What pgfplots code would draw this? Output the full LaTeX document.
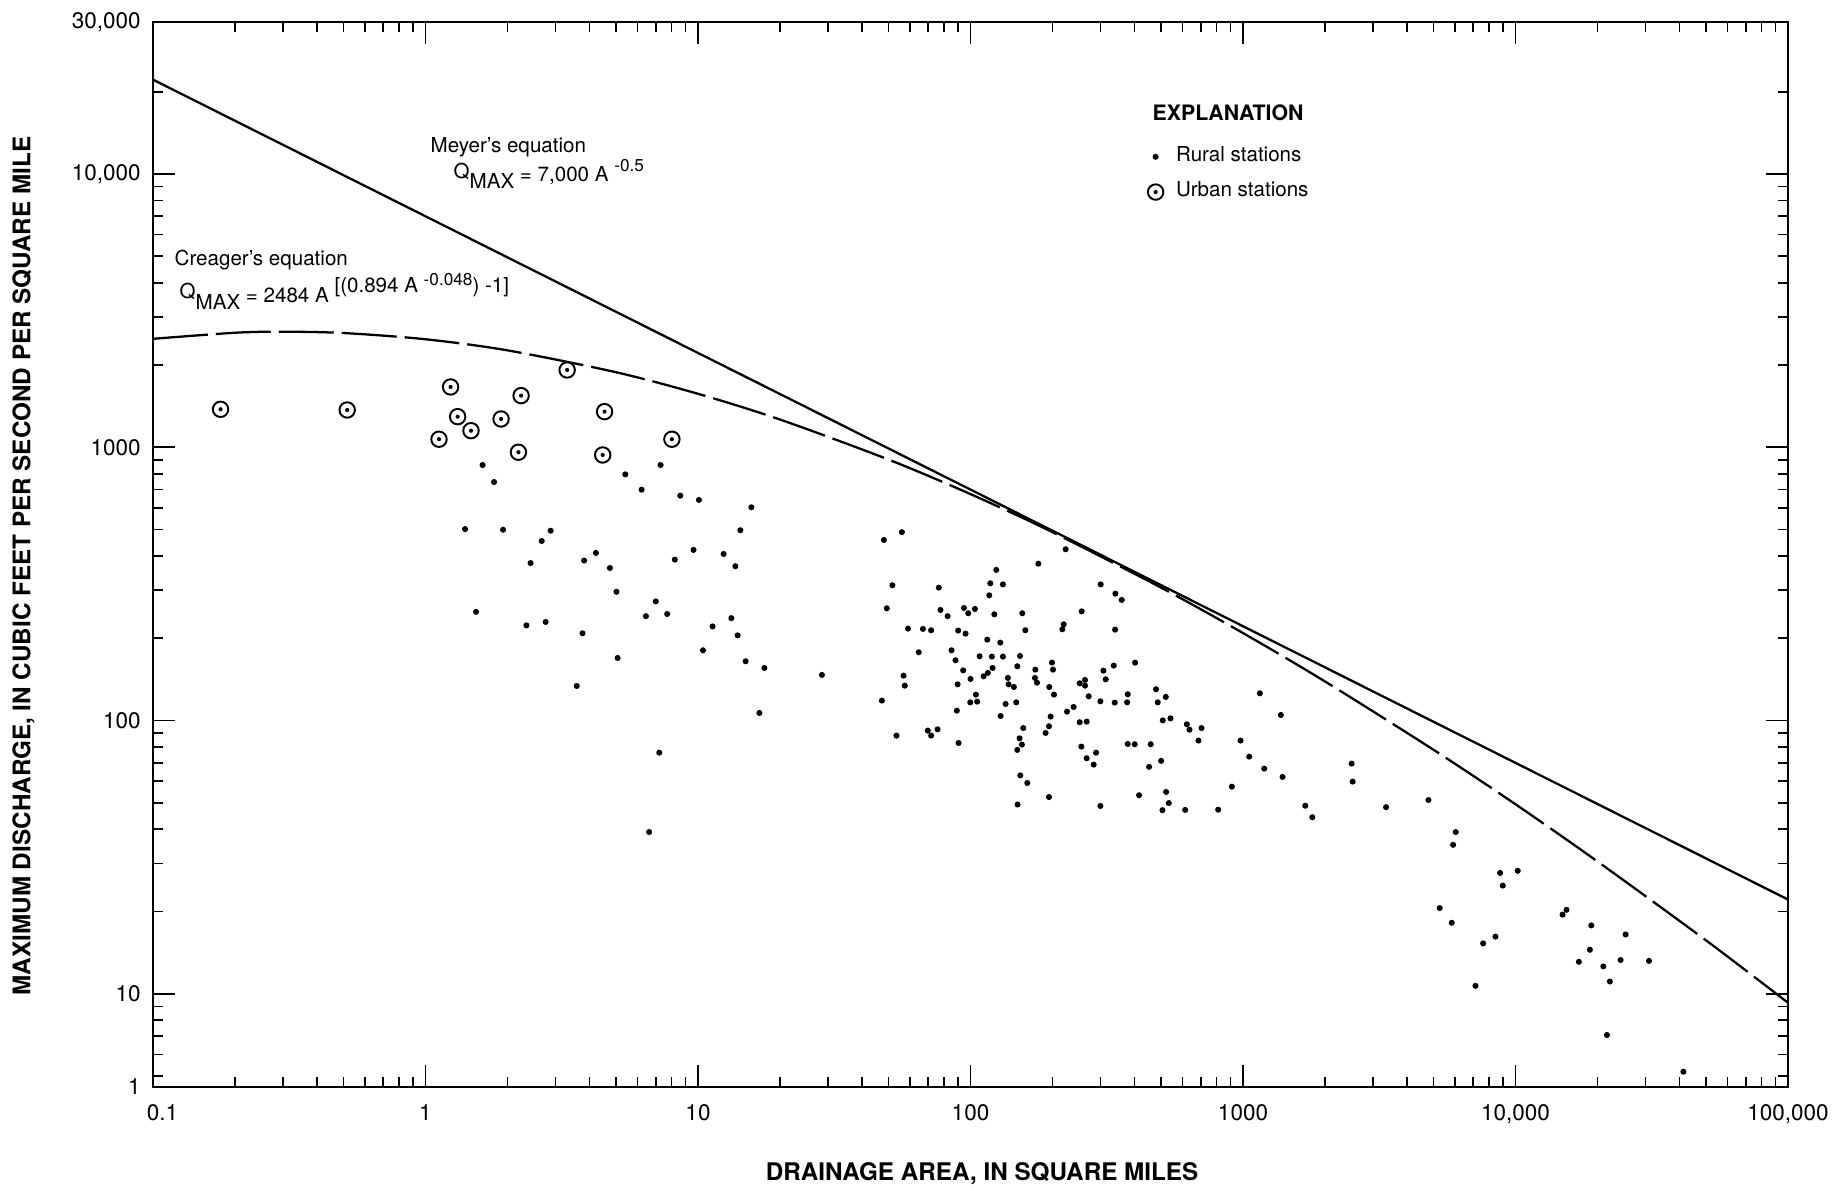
\documentclass[border=0pt]{standalone}
\usepackage{fontspec}
\setmainfont{TeX Gyre Heros}
\usepackage{pgfplots}
\pgfplotsset{compat=1.18}

% open circle with a dot in its centre (urban stations)
\pgfdeclareplotmark{circdot}{%
  \pgfpathcircle{\pgfpointorigin}{\pgfplotmarksize}\pgfusepathqstroke
  \pgfpathcircle{\pgfpointorigin}{0.27\pgfplotmarksize}\pgfusepathqfill}

\newcommand{\annfont}{\fontsize{5.85}{7}\selectfont}
\newcommand{\supfont}{\fontsize{4.9}{6}\selectfont}
\newcommand{\qmax}{\raisebox{0.18em}{Q}\raisebox{-0.32em}{MAX}}

\begin{document}
\begin{tikzpicture}
\begin{axis}[
  at={(0,0)}, anchor=south west,
  scale only axis, width=163.5mm, height=106.5mm,
  xmode=log, ymode=log,
  xmin=0.1, xmax=100000, ymin=4.563, ymax=35980,
  axis line style={line width=0.7pt},
  every tick/.style={black, line width=0.5pt},
  major tick length=2.2mm, minor tick length=1mm,
  tick align=inside,
  xtick={0.1,1,10,100,1000,10000,100000},
  xticklabels={\kern1.9mm 0.1,1,10,100,1000,{10,000},{100,000}},
  minor xtick={0.2,0.3,0.4,0.5,0.6,0.7,0.8,0.9,2,3,4,5,6,7,8,9,
    20,30,40,50,60,70,80,90,200,300,400,500,600,700,800,900,
    2000,3000,4000,5000,6000,7000,8000,9000,
    20000,30000,40000,50000,60000,70000,80000,90000},
  ytick={10,100,1000,10000},
  yticklabels={10,100,1000,{10,000}},
  minor ytick={5,6,7,8,9,20,30,40,50,60,70,80,90,200,300,400,500,600,700,800,900,
    2000,3000,4000,5000,6000,7000,8000,9000,20000},
  extra y ticks={4.563,35980},
  extra y tick labels={1,{30,000}},
  extra y tick style={major tick length=0pt},
  tick label style={font=\fontsize{6.4}{7.5}\selectfont},
  xticklabel style={yshift=-0.55mm},
  /pgf/number format/assume math mode=true,
  legend style={draw=none, fill=none, inner sep=0pt,
    at={(axis description cs:0.6073,0.8864)}, anchor=north west,
    font=\annfont, row sep=0.9mm, column sep=0.85mm,
    nodes={inner sep=0.3mm}},
  legend cell align=left,
  legend image code/.code={%
    \path[draw=none, fill=none] (-0.9mm,-0.9mm) rectangle (0.9mm,0.9mm);
    \draw[#1,only marks] plot coordinates {(0mm,0mm)};},
]

% rural stations
\addplot[only marks, mark=*, mark size=0.65pt, black] table {
x y
1.62 861
1.785 746
1.397 502
1.926 499
2.88 495
2.67 454
2.43 377
1.533 250
2.346 223
2.76 229.5
3.77 208.6
3.59 133.8
3.82 385
4.22 410.6
4.75 361.7
5.02 296
5.07 169.4
5.41 796
6.21 699.6
7.29 861
8.61 665
10.08 641.6
15.7 603
14.3 497
12.42 407
13.71 367
9.63 421
8.22 388
7.0 273
6.44 241
7.71 245.5
11.31 221
13.25 237
13.98 205
10.43 180.8
14.96 164.8
17.52 155.8
16.8 106.6
7.21 76.3
6.62 39.1
28.5 146.9
48.1 458
56.0 489
51.7 312.6
49.3 257.5
59.0 217
66.9 216.4
71.7 214
76.5 306.5
77.6 254
82.4 241
94.6 258.2
98.1 247
103.8 256
90.1 213.4
95.9 208
124.3 355.8
118.2 317.9
117.2 287.3
131.5 315
122.3 244.8
177.4 375
223.5 423.4
154.9 247
158.9 214
115.2 197.8
128.6 192.9
85.2 180.8
88.1 166.2
64.6 177.8
56.8 146
57.4 134.2
47.3 118.3
53.5 88.1
69.7 91.9
71.7 88.1
75.7 92.9
90.4 82.8
89.1 108.7
89.7 135.7
94.0 152.7
100 142
104.7 124.4
99.8 116.6
105.8 117.3
108.0 171.9
111.7 145.2
115.8 149.4
120.5 155.8
119.8 171.4
131.5 171.4
151.9 172.4
148.5 158
137.2 143.2
138 135.7
144.3 132.7
147.2 116.6
134.5 115.0
129 103.9
156.2 93.9
151.4 86.1
154.4 81.7
148.5 78.1
152.3 63.0
161.6 59.1
148.9 49.3
172.9 153.6
172.4 143.2
175.4 137.6
199.1 162.9
200.8 153.6
194.6 132.7
202.5 124.4
196.9 103.4
194.1 95.3
188.7 90.1
194.1 52.5
217.3 215.8
219.8 225
255.9 251
251.6 136.9
263.2 140.8
263.2 134.2
271.5 122.7
239.1 112.1
226.1 107.8
251.6 98.6
266.9 99.1
255.2 80.3
266.9 72.8
288.9 76.3
283.2 69.0
299.7 117.6
307.4 152.3
313.5 141.6
335.5 158.9
338.3 116.3
339.3 215.1
340.2 291.4
300.5 315
299.7 48.7
358.9 276.3
401.8 162.9
377.6 124.8
375.5 116.6
479.8 130.2
520.8 122.0
486.6 116.6
507.7 100.2
541.9 101.9
622.2 96.9
636.4 92.6
704.2 93.9
686.5 84.5
377.6 82.1
400.6 81.9
458.6 81.9
500.6 71.2
452.2 67.7
415.5 53.3
522.3 54.8
534.2 49.9
506.3 47.0
613.4 47.1
810.9 47.2
910.3 57.3
979.3 84.5
1054 73.8
1196 66.7
1397 62.2
1153 125.8
1377 104.8
1692 48.8
1796 44.3
2504 69.6
2526 59.8
3350 48.2
4791 51.2
6036 39.1
5903 35.1
8785 27.7
8981 24.9
10190 28.2
5272 20.6
5834 18.2
7607 15.3
8444 16.2
7131 10.7
14887 19.5
15397 20.3
18973 17.8
18750 14.5
17085 13.1
25360 16.5
24310 13.3
30890 13.2
21000 12.6
22200 11.1
21650 7.07
41320 5.19
};
\addlegendentry{Rural stations}

% urban stations
\addplot[only marks, mark=circdot, mark size=2.2pt,
  mark options={line width=0.55pt}, black] table {
x y
0.177 1377
0.516 1369
1.236 1662
1.312 1294
1.121 1070
1.469 1150
1.894 1269
2.243 1545
2.193 959
3.31 1918
4.54 1350
4.47 937
8.02 1070
};
\addlegendentry{Urban stations}

% Meyer's equation, Q = 7000 A^-0.5 (a straight line on log-log axes)
\addplot[black, line width=0.65pt, forget plot] coordinates {
  (0.1,22136) (100000,22.14)};

% Creager's equation, Q = 2484 A^((0.894 A^-0.048) - 1), tabulated
\addplot[black, line width=0.65pt, smooth, dash pattern=on 5.5mm off 0.8mm,
  forget plot] coordinates {
  (0.1,2493) (0.2,2624) (0.3,2647) (0.5,2618) (1,2484) (2,2262)
  (5,1882) (10,1569) (20,1263) (50,901.7) (100,673.9) (200,489.0)
  (500,306.6) (1000,209.0) (2000,139.0) (5000,78.2) (10000,49.4)
  (20000,30.5) (50000,15.7) (100000,9.28)};
\end{axis}

% equation labels
\node[anchor=west, font=\annfont, inner sep=0pt] at (27.7mm,94.0mm) {Meyer's equation};
\node[anchor=west, font=\annfont, inner sep=0pt] at (30.0mm,91.3mm)
  {\qmax\ = 7,000 A \raisebox{0.5em}{\supfont -0.5}};
\node[anchor=west, font=\annfont, inner sep=0pt] at (2.1mm,82.7mm) {Creager's equation};
\node[anchor=west, font=\annfont, inner sep=0pt] at (2.6mm,79.6mm)
  {\qmax\ = 2484 A \raisebox{0.5em}{[(0.894 A \raisebox{0.35em}{\supfont -0.048}) -1]}};

% legend heading
\node[anchor=west, font=\fontsize{6.05}{7}\selectfont\bfseries, inner sep=0pt]
  at (99.9mm,97.4mm) {EXPLANATION};

% axis titles
\node[font=\fontsize{6.9}{8}\selectfont\bfseries] at (82.9mm,-8.65mm)
  {DRAINAGE AREA, IN SQUARE MILES};
\node[font=\fontsize{6.9}{8}\selectfont\bfseries, rotate=90] at (-12.95mm,52.1mm)
  {MAXIMUM DISCHARGE, IN CUBIC FEET PER SECOND PER SQUARE MILE};

\pgfresetboundingbox
\useasboundingbox (-15.3mm,-10.2mm) rectangle (168.9mm,108.7mm);
\end{tikzpicture}
\end{document}
